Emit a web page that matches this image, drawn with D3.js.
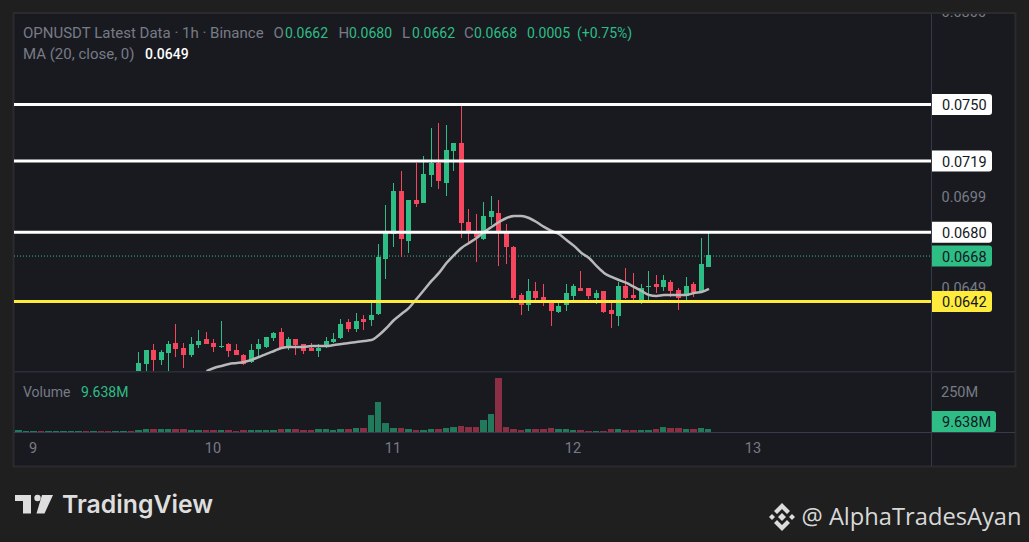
<!DOCTYPE html>
<html lang="en">
  <head>
    <meta charset="UTF-8" />
    <title>OPNUSDT 1h</title>
    <script src="https://d3js.org/d3.v7.min.js"></script>
    <style>
      html, body { margin: 0; background: #1f1f1f; }
      svg { display: block; font-family: Roboto, sans-serif; }
      .axis text { fill: #787b86; font-size: 14.5px; font-family: Roboto, sans-serif; }
      .axis path { display: none; }
    </style>
  </head>
  <body>
    <svg id="chart" width="1029" height="542"></svg>
    <script>
      // hours are counted from the "9" day tick
      const firstCandle = 14;
      const opens = [.05960,.06075,.06151,.06097,.06135,.06190,.06162,.06124,.06179,.06212,.06190,.06168,.06184,.06151,.06124,.06086,.06157,.06168,.06217,.06250,.06168,.06212,.06184,.06162,.06146,.06168,.06195,.06217,.06305,.06267,.06321,.06316,.06349,.06650,.06787,.07023,.06749,.06974,.06957,.07111,.07177,.07067,.07242,.07286,.06853,.06804,.06760,.06881,.06903,.06804,.06716,.06453,.06398,.06475,.06442,.06415,.06360,.06398,.06448,.06491,.06491,.06437,.06475,.06371,.06338,.06502,.06453,.06426,.06497,.06513,.06497,.06524,.06480,.06448,.06513,.06469,.06606];
      const closes = [.06080,.06151,.06097,.06140,.06184,.06157,.06124,.06184,.06201,.06184,.06168,.06173,.06146,.06124,.06075,.06151,.06184,.06223,.06245,.06157,.06212,.06179,.06146,.06146,.06162,.06201,.06212,.06294,.06267,.06310,.06305,.06343,.06661,.06793,.07023,.06760,.06974,.06952,.07116,.07177,.07078,.07248,.07286,.06848,.06798,.06771,.06886,.06913,.06798,.06716,.06437,.06398,.06475,.06437,.06420,.06365,.06393,.06464,.06502,.06475,.06448,.06464,.06360,.06349,.06502,.06437,.06437,.06491,.06502,.06497,.06535,.06475,.06437,.06502,.06469,.06623,.06672];
      const highs = [.06140,.06151,.06184,.06151,.06201,.06294,.06190,.06223,.06261,.06250,.06212,.06310,.06190,.06184,.06130,.06184,.06212,.06223,.06250,.06272,.06223,.06212,.06184,.06190,.06184,.06223,.06245,.06321,.06321,.06354,.06343,.06415,.06733,.06946,.07067,.07133,.06974,.07177,.07215,.07368,.07396,.07385,.07286,.07495,.06924,.06897,.06963,.06996,.06974,.06842,.06722,.06464,.06541,.06524,.06513,.06426,.06426,.06513,.06513,.06585,.06491,.06480,.06475,.06426,.06524,.06601,.06574,.06513,.06585,.06563,.06563,.06535,.06491,.06552,.06524,.06765,.06793];
      const lows = [.05921,.05987,.06009,.06069,.06014,.06113,.06053,.06113,.06162,.06184,.06140,.06162,.06113,.06124,.06069,.06080,.06113,.06162,.06201,.06157,.06151,.06124,.06130,.06146,.06113,.06162,.06190,.06212,.06250,.06250,.06261,.06283,.06343,.06541,.06716,.06661,.06683,.06935,.06957,.07045,.07034,.06996,.07133,.06765,.06744,.06634,.06754,.06837,.06612,.06623,.06415,.06343,.06365,.06415,.06393,.06283,.06354,.06365,.06415,.06475,.06431,.06404,.06354,.06272,.06283,.06431,.06415,.06404,.06426,.06464,.06475,.06442,.06371,.06415,.06442,.06469,.06606];

      const firstMa = 23;
      const maValues = [.06036,.06053,.06064,.06075,.06080,.06086,.06097,.06113,.06130,.06146,.06162,.06168,.06168,.06168,.06173,.06173,.06173,.06179,.06184,.06190,.06195,.06201,.06206,.06234,.06272,.06316,.06349,.06382,.06431,.06480,.06530,.06574,.06628,.06672,.06711,.06738,.06765,.06798,.06826,.06853,.06875,.06886,.06886,.06875,.06853,.06826,.06804,.06787,.06754,.06722,.06683,.06656,.06612,.06574,.06552,.06535,.06519,.06497,.06475,.06453,.06448,.06453,.06453,.06453,.06453,.06464,.06469,.06486];

      const firstVolume = -2;
      const volumes = [12.5,6.3,6.3,6.3,6.3,6.3,6.3,6.3,6.3,6.3,6.3,6.3,6.3,6.3,6.3,6.3,12.5,18.8,18.8,18.8,18.8,18.8,18.8,12.5,12.5,12.5,12.5,12.5,12.5,6.3,12.5,12.5,12.5,12.5,12.5,18.8,18.8,18.8,12.5,12.5,18.8,18.8,12.5,18.8,18.8,25,25,106,187.5,56,25,25,18.8,12.5,12.5,18.8,18.8,25,31,37.5,31,31,75,112.5,337.5,31,18.8,12.5,18.8,18.8,18.8,25,18.8,18.8,12.5,12.5,6.3,6.3,6.3,18.8,18.8,12.5,12.5,12.5,12.5,18.8,31,25,25,18.8,18.8,25,18.8];
      // direction of the bars whose candles sit below the visible price range
      const earlyVolumeUp = [1,1,1,0,1,1,1,1,1,0,1,0,0,1,1,0];

      const dayHours = [0, 24, 48, 72, 96];
      const dayLabels = ["9", "10", "11", "12", "13"];
      const priceTicks = [0.08, 0.0699, 0.0649];
      const volumeTicks = [250];
      const whiteLevels = [0.075, 0.0719, 0.068];
      const yellowLevels = [0.0642];
      const lastPrice = closes[closes.length - 1];

      const upColor = "#2ebd85";
      const downColor = "#f6465d";
      const upVolume = "#217a5b";
      const downVolume = "#8b2f44";
      const muted = "#787b86";

      const svg = d3.select("#chart");
      const x = d3.scaleLinear().domain([0, 96]).range([33.5, 753.5]);
      const y = d3.scaleLinear().domain([0.0642, 0.075]).range([301.5, 104.5]);
      const yVol = d3.scaleLinear().domain([0, 250]).range([432, 392]);
      const px = (h) => Math.floor(x(h));
      const py = (v) => Math.floor(y(v));

      // frame
      svg.append("rect").attr("x", 13.5).attr("y", 13).attr("width", 1002).attr("height", 453.5)
        .attr("fill", "#181a20").attr("stroke", "#2b2b2b").attr("stroke-width", 2);
      svg.append("rect").attr("x", 931).attr("y", 14).attr("width", 1).attr("height", 452).attr("fill", "#363a45");
      svg.append("rect").attr("x", 14).attr("y", 371).attr("width", 1001).attr("height", 1.5).attr("fill", "#2a2e39");
      svg.append("rect").attr("x", 14).attr("y", 432).attr("width", 1001).attr("height", 1).attr("fill", "#363c4e");

      const defs = svg.append("defs");
      defs.append("clipPath").attr("id", "pricePane").append("rect")
        .attr("x", 14).attr("y", 14).attr("width", 917).attr("height", 357);
      defs.append("clipPath").attr("id", "priceScale").append("rect")
        .attr("x", 932).attr("y", 14).attr("width", 83).attr("height", 357);

      // volume
      const volumeUp = (d, i) => {
        const h = firstVolume + i;
        if (h < firstCandle) return earlyVolumeUp[i];
        return closes[h - firstCandle] >= opens[h - firstCandle];
      };
      svg.append("g").selectAll("rect").data(volumes).join("rect")
        .attr("x", (d, i) => px(firstVolume + i) - 3)
        .attr("width", (d, i) => px(firstVolume + i + 1) - px(firstVolume + i) - 1)
        .attr("y", (d) => yVol(d))
        .attr("height", (d) => yVol(0) - yVol(d))
        .attr("fill", (d, i) => (volumeUp(d, i) ? upVolume : downVolume));

      const pane = svg.append("g").attr("clip-path", "url(#pricePane)");

      // current price line
      pane.append("line").attr("x1", 14).attr("x2", 931)
        .attr("y1", y(lastPrice) + 0.5).attr("y2", y(lastPrice) + 0.5)
        .attr("stroke", upColor).attr("stroke-width", 1).attr("stroke-dasharray", "1 2");

      // candles
      const candles = pane.append("g").selectAll("g").data(opens).join("g")
        .attr("fill", (d, i) => (closes[i] >= opens[i] ? upColor : downColor));
      candles.append("rect")
        .attr("x", (d, i) => px(firstCandle + i))
        .attr("width", 1)
        .attr("y", (d, i) => py(highs[i]))
        .attr("height", (d, i) => py(lows[i]) - py(highs[i]));
      candles.append("rect")
        .attr("x", (d, i) => px(firstCandle + i) - 2)
        .attr("width", 5)
        .attr("y", (d, i) => py(Math.max(opens[i], closes[i])))
        .attr("height", (d, i) => Math.max(1, py(Math.min(opens[i], closes[i])) - py(Math.max(opens[i], closes[i]))));

      // moving average
      const maLine = d3.line().x((d, i) => x(firstMa + i) + 0.5).y((d) => y(d) - 0.5).curve(d3.curveMonotoneX);
      pane.append("path").datum(maValues).attr("d", maLine)
        .attr("fill", "none").attr("stroke", "#b8b8b8").attr("stroke-width", 2.5);

      // drawn levels
      const levels = [
        ...whiteLevels.map((v) => ({ v, color: "#ffffff" })),
        ...yellowLevels.map((v) => ({ v, color: "#ffeb3b" })),
      ];
      pane.selectAll(".level").data(levels).join("line").attr("class", "level")
        .attr("x1", 14).attr("x2", 931)
        .attr("y1", (d) => y(d.v)).attr("y2", (d) => y(d.v))
        .attr("stroke", (d) => d.color).attr("stroke-width", 3);

      // axes
      svg.append("g").attr("class", "axis").attr("transform", "translate(-1,443)")
        .call(d3.axisBottom(x).tickValues(dayHours).tickFormat((d, i) => dayLabels[i]).tickSize(0).tickPadding(0));
      svg.append("g").attr("clip-path", "url(#priceScale)").append("g").attr("class", "axis")
        .attr("transform", "translate(941.5,-1)")
        .call(d3.axisRight(y).tickValues(priceTicks).tickFormat(d3.format(".4f")).tickSize(0).tickPadding(0));
      svg.append("g").attr("class", "axis").attr("transform", "translate(941,0)")
        .call(d3.axisRight(yVol).tickValues(volumeTicks).tickFormat((d) => d + "M").tickSize(0).tickPadding(0));

      // price scale badges
      const badge = (yc, w, label, fill) => {
        svg.append("path")
          .attr("d", `M932 ${yc - 10.5}h${w - 3}a3 3 0 0 1 3 3v15a3 3 0 0 1 -3 3h${-(w - 3)}z`)
          .attr("fill", fill);
        svg.append("text").attr("x", 942).attr("y", yc + 5.5).attr("font-size", 14.5)
          .attr("fill", "#131722").text(label);
      };
      whiteLevels.forEach((v) => badge(y(v), 60, d3.format(".4f")(v), "#ffffff"));
      badge(y(lastPrice) + 0.5, 60, "0.0668", upColor);
      yellowLevels.forEach((v) => badge(y(v), 60, d3.format(".4f")(v), "#ffeb3b"));
      badge(421.5, 64, "9.638M", upColor);

      // legends
      const label = (xp, yp, str, fill, size, weight) => {
        const t = svg.append("text").attr("x", xp).attr("y", yp).attr("font-size", size || 14).attr("fill", fill).text(str);
        if (weight) t.attr("font-weight", weight);
      };
      label(23, 38, "OPNUSDT Latest Data · 1h · Binance", muted, 15);
      label(273.5, 38, "O", muted, 15);
      label(285, 38, "0.0662", upColor);
      label(338.5, 38, "H", muted, 15);
      label(349, 38, "0.0680", upColor);
      label(402, 38, "L", muted, 15);
      label(412, 38, "0.0662", upColor);
      label(464, 38, "C", muted, 15);
      label(474, 38, "0.0668", upColor);
      label(527, 38, "0.0005", upColor);
      label(577, 38, "(+0.75%)", upColor);
      label(23, 59, "MA (20, close, 0)", muted, 15);
      label(145, 59, "0.0649", "#ffffff", 14, 500);
      label(23, 397, "Volume", muted);
      label(81, 397, "9.638M", upColor);

      // footer marks
      const logo = svg.append("g").attr("fill", "#dedede");
      logo.append("path").attr("d", "M15 495h16v18.5h-8v-12.5h-8z");
      logo.append("circle").attr("cx", 37.5).attr("cy", 498).attr("r", 3.2);
      logo.append("path").attr("d", "M42 495h11l-8.5 18.5h-8z");
      svg.append("text").attr("x", 62).attr("y", 513).attr("font-family", "Inter").attr("font-weight", 600)
        .attr("font-size", 24.8).attr("fill", "#dedede").text("TradingView");

      const mark = svg.append("g").attr("fill", "#dcdcdc");
      [
        "M782 513l4 4l-4 4l-4 -4z",
        "M772 514l3 3l-3 3l-3 -3z",
        "M792 514l3 3l-3 3l-3 -3z",
        "M782 503l8 8l-3 3l-5 -5l-5 5l-3 -3z",
        "M782 531l-8 -8l3 -3l5 5l5 -5l3 3z",
      ].forEach((d) => mark.append("path").attr("d", d));
      svg.append("text").attr("x", 801.5).attr("y", 525).attr("font-family", "'Open Sans'")
        .attr("font-size", 23.7).attr("fill", "#d8d8d8").text("@ AlphaTradesAyan");
    </script>
  </body>
</html>
